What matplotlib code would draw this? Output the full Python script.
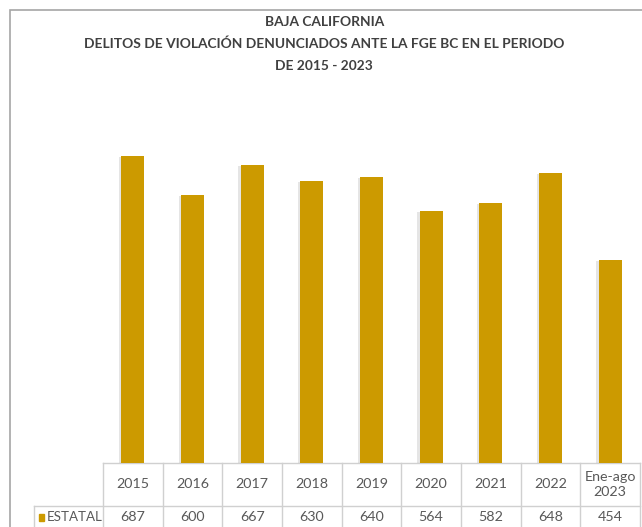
import matplotlib.pyplot as plt
import matplotlib.patheffects as pe
from matplotlib.patches import Rectangle
import matplotlib.transforms as mtransforms

plt.rcParams['font.family'] = ['Lato', 'DejaVu Sans']

categorias = ['2015', '2016', '2017', '2018', '2019', '2020', '2021', '2022', 'Ene-ago\n2023']
estatal = [687, 600, 667, 630, 640, 564, 582, 648, 454]
serie = 'ESTATAL'
titulo = ('BAJA CALIFORNIA\n'
          'DELITOS DE VIOLACIÓN DENUNCIADOS ANTE LA FGE BC EN EL PERIODO\n'
          'DE 2015 - 2023')

oro = '#CC9A00'
gris_txt = '#595959'
gris_lin = '#d0d0d0'

fig = plt.figure(figsize=(6.42, 5.27), dpi=100)
W, H = 642, 527

# marco exterior
fig.patches.append(Rectangle((10.5 / W, -0.1), 1.1, (H - 10) / H + 0.1,
                             transform=fig.transFigure, fill=False,
                             edgecolor='#a6a6a6', linewidth=1.2))

ax = fig.add_axes([103 / W, (H - 463) / H, 537 / W, 358 / H])
x = list(range(len(categorias)))
barras = ax.bar(x, estatal, width=0.39, color=oro, zorder=3)
for b in barras:
    b.set_path_effects([pe.SimplePatchShadow(offset=(-1.5, -1), shadow_rgbFace='#808080', alpha=0.2),
                        pe.Normal()])

ax.set_xlim(-0.5, len(categorias) - 0.5)
ax.set_ylim(0, 800)
ax.axis('off')

fig.text(0.505, (H - 44) / H, titulo, ha='center', va='center', fontsize=9.9,
         fontweight='bold', color='#404040', linespacing=1.95)

# tabla de datos bajo el gráfico
trans = mtransforms.blended_transform_factory(ax.transData, ax.transAxes)
px = 1 / 358
colw = 59.7
y_top = 0
y_mid = -43 * px
y_bot = -75 * px
x_lab = -0.5 - 69 / colw
n = len(categorias)

ax.plot([-0.5, n - 0.5], [y_top, y_top], transform=trans, color=gris_lin, lw=1, clip_on=False)
ax.plot([x_lab, n - 0.5], [y_mid, y_mid], transform=trans, color=gris_lin, lw=1, clip_on=False)
for i in range(n + 1):
    ax.plot([i - 0.5, i - 0.5], [y_top, y_bot], transform=trans, color=gris_lin, lw=1, clip_on=False)
ax.plot([x_lab, x_lab], [y_mid, y_bot], transform=trans, color=gris_lin, lw=1, clip_on=False)

for i, (c, v) in enumerate(zip(categorias, estatal)):
    ax.text(i, (y_top + y_mid) / 2, c, transform=trans, ha='center', va='center',
            fontsize=10.3, color=gris_txt, linespacing=1.3)
    ax.text(i, -54 * px, str(v), transform=trans, ha='center', va='center',
            fontsize=10.3, color=gris_txt)

ax.add_patch(Rectangle((x_lab + 5 / colw, -58 * px), 5 / colw, 7 * px, transform=trans,
                       color=oro, clip_on=False))
ax.text(x_lab + 13 / colw, -54 * px, serie, transform=trans, ha='left', va='center',
        fontsize=9.6, color=gris_txt)

fig.savefig('out.png', dpi=100)
